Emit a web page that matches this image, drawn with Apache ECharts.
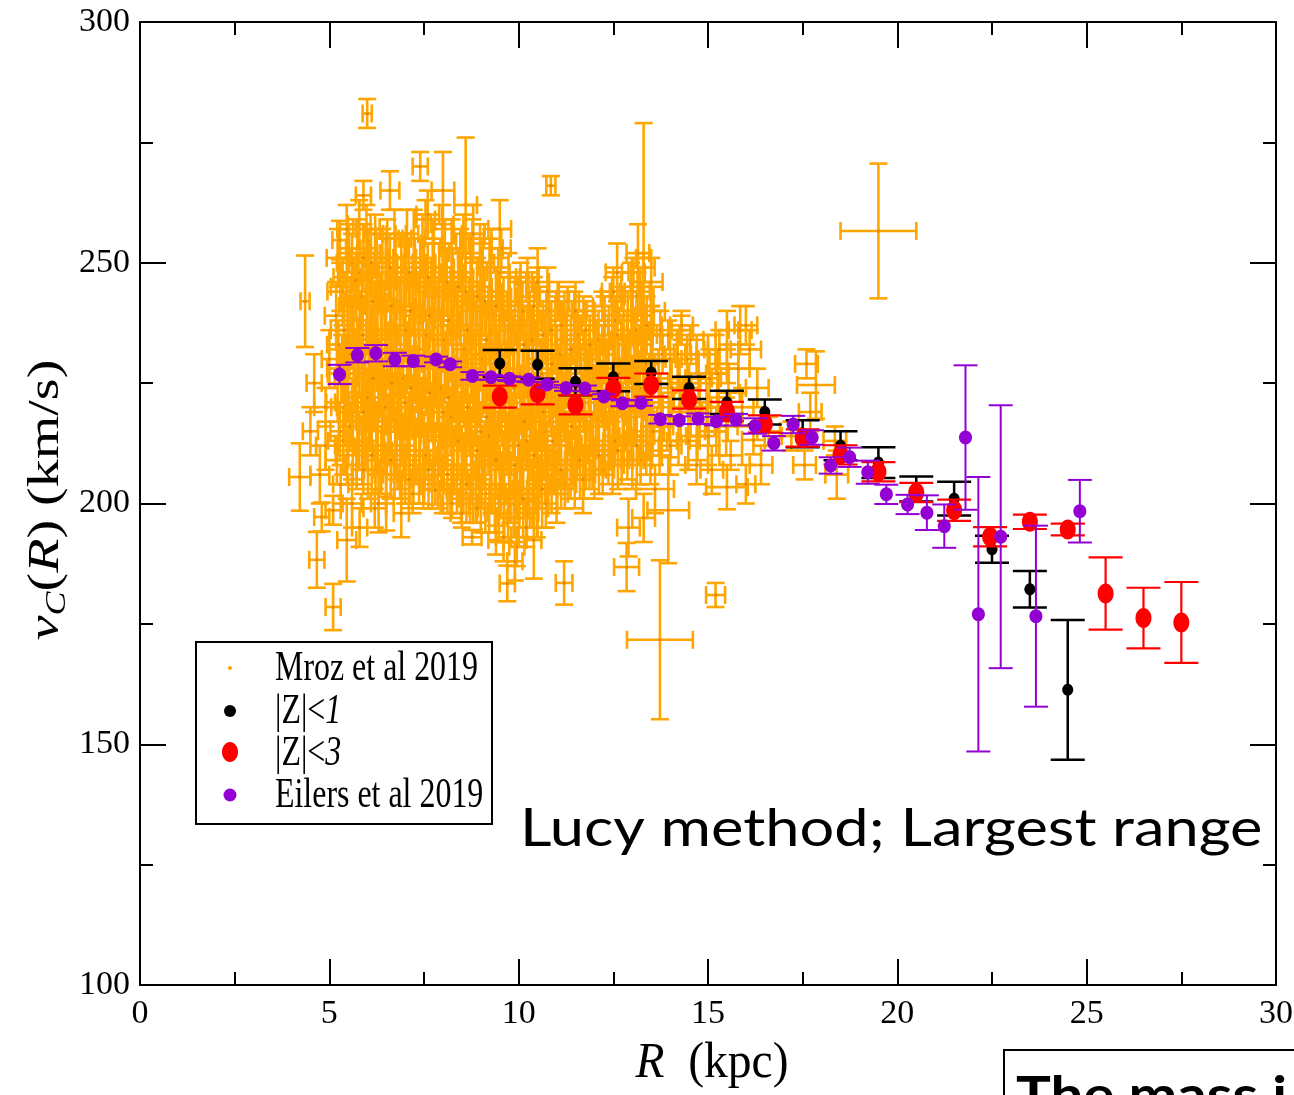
<!DOCTYPE html>
<html><head><meta charset="utf-8">
<script src="https://cdn.jsdelivr.net/npm/echarts@6/dist/echarts.min.js"></script>
<style>html,body{margin:0;padding:0;background:#fff}#c{width:1294px;height:1095px}</style>
</head><body><div id="c"></div>
<script>
// ---- axis ranges / ticks ----
const xRange = [0, 30], xStep = 5;
const yRange = [100, 300], yStep = 50;

// ---- Mroz et al 2019: [R, v, dR, dV] ----
const mroz = [
[5.2,209,.3,5],[5.28,215,.25,6],[5.22,221,.3,4],[5.31,227,.35,6],[5.24,233,.3,5],[5.18,239,.3,7],[5.29,245,.25,5],[5.23,251,.3,6],
[5.47,210,.3,6],[5.55,216,.3,5],[5.5,221,.35,4],[5.44,226,.3,6],[5.53,231,.25,5],[5.49,236,.3,6],[5.56,241,.3,5],[5.46,247,.35,6],[5.52,253,.3,5],
[5.72,208,.3,5],[5.79,213,.25,6],[5.74,218,.3,5],[5.7,223,.35,4],[5.78,228,.3,6],[5.73,233,.3,5],[5.8,238,.3,6],[5.71,243,.25,5],[5.77,248,.3,4],[5.74,253,.3,6],[5.79,258,.3,5],
[6.02,207,.3,6],[5.96,212,.3,5],[6.05,217,.35,5],[6,222,.3,4],[5.95,227,.3,6],[6.04,232,.3,5],[5.99,237,.25,6],[6.06,242,.3,5],[5.97,247,.3,6],[6.03,252,.3,5],[5.98,257,.35,5],
[6.22,207,.3,5],[6.28,212,.3,6],[6.24,216,.3,5],[6.19,221,.35,6],[6.3,226,.3,4],[6.23,231,.3,5],[6.27,236,.3,6],[6.2,241,.25,5],[6.31,246,.3,4],[6.25,251,.3,5],[6.21,256,.3,4],
[6.5,206,.3,6],[6.45,211,.3,5],[6.55,215,.3,6],[6.48,220,.3,5],[6.44,225,.35,4],[6.53,230,.3,6],[6.5,235,.3,5],[6.46,240,.3,6],[6.56,245,.3,5],[6.49,250,.3,5],[6.53,255,.3,4],
[6.72,206,.3,5],[6.78,211,.3,6],[6.74,216,.3,4],[6.7,221,.3,6],[6.8,226,.3,5],[6.73,231,.35,6],[6.77,236,.3,5],[6.71,241,.3,6],[6.79,246,.3,5],[6.75,251,.25,4],[6.72,256,.3,5],
[7,206,.3,6],[6.96,211,.3,5],[7.04,216,.3,6],[7,221,.3,5],[6.95,226,.3,4],[7.05,231,.3,6],[7.01,236,.35,5],[6.97,241,.3,6],[7.03,246,.3,5],[6.99,251,.3,5],[7.05,256,.3,5],
[7.22,205,.3,5],[7.28,210,.3,6],[7.25,215,.3,5],[7.2,220,.35,6],[7.3,225,.3,4],[7.24,230,.3,5],[7.27,235,.3,6],[7.21,240,.25,5],[7.29,245,.3,4],[7.26,250,.3,5],[7.23,255,.3,6],
[7.48,205,.3,6],[7.54,210,.3,5],[7.5,215,.3,4],[7.45,220,.3,6],[7.53,225,.35,5],[7.49,230,.3,6],[7.56,235,.3,5],[7.47,240,.3,4],[7.52,245,.3,6],[7.5,250,.3,5],[7.46,255,.3,5],[7.54,259,.25,4],
[7.72,204,.3,5],[7.78,209,.3,6],[7.75,214,.35,5],[7.7,219,.3,6],[7.8,224,.3,4],[7.74,229,.3,5],[7.77,234,.3,6],[7.71,239,.3,5],[7.79,244,.3,4],[7.76,249,.3,6],[7.73,254,.3,5],
[8,204,.3,6],[7.96,209,.3,5],[8.04,214,.3,6],[8,219,.3,5],[7.95,224,.3,4],[8.05,229,.3,6],[8.01,234,.35,5],[7.97,239,.3,6],[8.03,244,.3,5],[7.99,249,.3,5],[8.05,254,.3,5],[7.98,258,.3,4],
[8.22,203,.3,5],[8.28,208,.3,6],[8.25,213,.3,5],[8.2,218,.35,6],[8.3,223,.3,4],[8.24,228,.3,5],[8.27,233,.3,6],[8.21,238,.25,5],[8.29,243,.3,4],[8.26,248,.3,5],[8.23,253,.3,6],
[8.48,202,.3,6],[8.54,207,.3,5],[8.5,212,.3,4],[8.45,217,.3,6],[8.53,222,.35,5],[8.49,227,.3,6],[8.56,232,.3,5],[8.47,237,.3,4],[8.52,242,.3,6],[8.5,247,.3,5],[8.46,252,.3,5],[8.54,256,.25,4],
[8.72,201,.3,5],[8.78,206,.3,6],[8.75,211,.35,5],[8.7,216,.3,6],[8.8,221,.3,4],[8.74,226,.3,5],[8.77,231,.3,6],[8.71,236,.3,5],[8.79,241,.3,4],[8.76,246,.3,6],[8.73,251,.3,5],[8.78,255,.3,4],
[9,200,.3,6],[8.96,205,.3,5],[9.04,210,.3,6],[9,215,.3,5],[8.95,220,.3,4],[9.05,225,.3,6],[9.01,230,.35,5],[8.97,235,.3,6],[9.03,240,.3,5],[8.99,245,.3,5],[9.05,250,.3,5],[8.98,254,.3,4],
[9.22,199,.3,5],[9.28,204,.3,6],[9.25,209,.3,5],[9.2,214,.35,6],[9.3,219,.3,4],[9.24,224,.3,5],[9.27,229,.3,6],[9.21,234,.25,5],[9.29,239,.3,4],[9.26,244,.3,5],[9.23,249,.3,6],[9.28,253,.3,4],
[9.48,198,.3,6],[9.54,203,.3,5],[9.5,208,.3,4],[9.45,213,.3,6],[9.53,218,.35,5],[9.49,223,.3,6],[9.56,228,.3,5],[9.47,233,.3,4],[9.52,238,.3,6],[9.5,243,.3,5],[9.46,248,.3,5],[9.54,253,.25,4],
[9.72,197,.3,5],[9.78,202,.3,6],[9.75,207,.35,5],[9.7,212,.3,6],[9.8,217,.3,4],[9.74,222,.3,5],[9.77,227,.3,6],[9.71,232,.3,5],[9.79,237,.3,4],[9.76,242,.3,6],[9.73,247,.3,5],
[10,197,.3,6],[9.96,202,.3,5],[10.04,207,.3,6],[10,212,.3,5],[9.95,217,.3,4],[10.05,222,.3,6],[10.01,227,.35,5],[9.97,232,.3,6],[10.03,237,.3,5],[9.99,242,.3,5],[10.05,246,.3,4],
[10.22,198,.3,5],[10.28,203,.3,6],[10.25,208,.3,5],[10.2,213,.35,6],[10.3,218,.3,4],[10.24,223,.3,5],[10.27,228,.3,6],[10.21,233,.25,5],[10.29,238,.3,4],[10.26,243,.3,5],[10.23,247,.3,4],
[10.48,199,.3,6],[10.54,204,.3,5],[10.5,209,.3,4],[10.45,214,.3,6],[10.53,219,.35,5],[10.49,224,.3,6],[10.56,229,.3,5],[10.47,234,.3,4],[10.52,239,.3,6],[10.5,244,.3,5],
[10.72,200,.3,5],[10.78,205,.3,6],[10.75,210,.35,5],[10.7,215,.3,6],[10.8,220,.3,4],[10.74,225,.3,5],[10.77,230,.3,6],[10.71,235,.3,5],[10.79,240,.3,4],[10.76,244,.3,5],
[11,202,.3,6],[10.96,207,.3,5],[11.04,212,.3,6],[11,217,.3,5],[10.95,222,.3,4],[11.05,227,.3,6],[11.01,232,.35,5],[10.97,237,.3,6],[11.03,242,.3,4],
[11.22,204,.3,5],[11.28,209,.3,6],[11.25,214,.3,5],[11.2,219,.35,6],[11.3,224,.3,4],[11.24,229,.3,5],[11.27,234,.3,6],[11.21,239,.25,5],[11.29,242,.3,3],
[11.48,205,.3,6],[11.54,210,.3,5],[11.5,215,.3,4],[11.45,220,.3,6],[11.53,225,.35,5],[11.49,230,.3,6],[11.56,235,.3,5],[11.47,240,.3,4],
[11.72,206,.3,5],[11.78,211,.3,6],[11.75,216,.35,5],[11.7,221,.3,6],[11.8,226,.3,4],[11.74,231,.3,5],[11.77,236,.3,6],[11.71,240,.3,3],
[12,207,.3,6],[11.96,212,.3,5],[12.04,217,.3,6],[12,222,.3,5],[11.95,227,.3,4],[12.05,232,.3,6],[12.01,237,.35,4],
[12.22,207,.3,5],[12.28,212,.3,6],[12.25,217,.3,5],[12.2,222,.35,6],[12.3,227,.3,4],[12.24,232,.3,5],[12.27,237,.3,6],[12.21,241,.25,3],
[12.48,208,.3,6],[12.54,213,.3,5],[12.5,218,.3,4],[12.45,223,.3,6],[12.53,228,.35,5],[12.49,233,.3,6],[12.56,238,.3,5],[12.47,243,.3,4],
[12.72,209,.3,5],[12.78,214,.3,6],[12.75,219,.35,5],[12.7,224,.3,6],[12.8,229,.3,4],[12.74,234,.3,5],[12.77,239,.3,6],[12.71,244,.3,4],
[13,209,.3,6],[12.96,214,.3,5],[13.04,219,.3,6],[13,224,.3,5],[12.95,229,.3,4],[13.05,234,.3,6],[13.01,239,.35,5],[12.97,244,.3,6],[13.03,248,.3,3],
[13.22,209,.3,5],[13.28,214,.3,6],[13.25,219,.3,5],[13.2,224,.35,6],[13.3,229,.3,4],[13.24,234,.3,5],[13.27,239,.3,6],[13.21,244,.25,5],[13.29,249,.3,3],
[13.48,210,.3,6],[13.54,215,.3,5],[13.5,220,.3,4],[13.45,225,.3,6],[13.53,230,.35,5],[13.49,235,.3,6],[13.56,240,.3,5],
[13.72,211,.3,5],[13.78,216,.3,6],[13.75,221,.35,5],[13.7,226,.3,6],[13.8,231,.3,4],[13.74,236,.3,4],
[14,212,.3,6],[13.96,218,.3,5],[14.04,224,.3,6],[14,230,.3,5],[13.95,235,.3,3],
[14.22,213,.3,5],[14.28,219,.3,6],[14.25,225,.3,5],[14.2,231,.35,5],[14.3,236,.3,3],
[14.48,213,.3,6],[14.54,219,.3,5],[14.5,225,.3,4],[14.45,230,.3,5],[14.53,234,.35,3],
[14.72,214,.3,5],[14.78,220,.3,6],[14.75,226,.35,5],[14.7,231,.3,4],
[15,214,.3,6],[14.96,220,.3,5],[15.04,226,.3,6],[15,231,.3,4],
[15.22,215,.3,5],[15.28,221,.3,6],[15.25,227,.3,5],[15.2,232,.3,3],
[15.48,216,.3,6],[15.54,223,.3,5],[15.5,229,.3,4],
// interleaved core points
[5.37,213,.4,7],[5.4,220,.35,8],[5.34,228,.4,7],[5.39,236,.35,8],[5.35,244,.4,7],
[5.62,212,.4,8],[5.6,219,.35,7],[5.65,227,.4,8],[5.61,235,.4,7],[5.64,243,.35,8],[5.6,250,.4,6],
[5.87,211,.4,7],[5.9,219,.4,8],[5.85,227,.35,7],[5.88,235,.4,8],[5.86,243,.4,7],[5.9,251,.35,7],
[6.12,210,.4,8],[6.1,218,.35,7],[6.15,226,.4,8],[6.11,234,.4,7],[6.14,242,.35,8],[6.1,250,.4,7],
[6.37,209,.4,7],[6.4,217,.4,8],[6.35,225,.35,7],[6.38,233,.4,8],[6.36,241,.4,7],[6.4,249,.35,8],
[6.62,209,.4,8],[6.6,217,.35,7],[6.65,225,.4,8],[6.61,233,.4,7],[6.64,241,.35,8],[6.6,249,.4,7],
[6.87,208,.4,7],[6.9,216,.4,8],[6.85,224,.35,7],[6.88,232,.4,8],[6.86,240,.4,7],[6.9,248,.35,8],
[7.12,208,.4,8],[7.1,216,.35,7],[7.15,224,.4,8],[7.11,232,.4,7],[7.14,240,.35,8],[7.1,248,.4,7],
[7.37,207,.4,7],[7.4,215,.4,8],[7.35,223,.35,7],[7.38,231,.4,8],[7.36,239,.4,7],[7.4,247,.35,8],
[7.62,207,.4,8],[7.6,215,.35,7],[7.65,223,.4,8],[7.61,231,.4,7],[7.64,239,.35,8],[7.6,247,.4,7],
[7.87,206,.4,7],[7.9,214,.4,8],[7.85,222,.35,7],[7.88,230,.4,8],[7.86,238,.4,7],[7.9,246,.35,8],
[8.12,206,.4,8],[8.1,214,.35,7],[8.15,222,.4,8],[8.11,230,.4,7],[8.14,238,.35,8],[8.1,246,.4,7],
[8.37,205,.4,7],[8.4,213,.4,8],[8.35,221,.35,7],[8.38,229,.4,8],[8.36,237,.4,7],[8.4,245,.35,8],
[8.62,204,.4,8],[8.6,212,.35,7],[8.65,220,.4,8],[8.61,228,.4,7],[8.64,236,.35,8],[8.6,244,.4,7],
[8.87,203,.4,7],[8.9,211,.4,8],[8.85,219,.35,7],[8.88,227,.4,8],[8.86,235,.4,7],[8.9,243,.35,8],
[9.12,202,.4,8],[9.1,210,.35,7],[9.15,218,.4,8],[9.11,226,.4,7],[9.14,234,.35,8],[9.1,242,.4,7],
[9.37,201,.4,7],[9.4,209,.4,8],[9.35,217,.35,7],[9.38,225,.4,8],[9.36,233,.4,7],[9.4,241,.35,8],
[9.62,200,.4,8],[9.6,208,.35,7],[9.65,216,.4,8],[9.61,224,.4,7],[9.64,232,.35,8],[9.6,240,.4,7],
[9.87,200,.4,7],[9.9,208,.4,8],[9.85,216,.35,7],[9.88,224,.4,8],[9.86,232,.4,7],[9.9,240,.35,7],
[10.12,201,.4,8],[10.1,209,.35,7],[10.15,217,.4,8],[10.11,225,.4,7],[10.14,233,.35,8],[10.1,240,.4,6],
[10.37,202,.4,7],[10.4,210,.4,8],[10.35,218,.35,7],[10.38,226,.4,8],[10.36,234,.4,7],[10.4,241,.35,6],
[10.62,203,.4,8],[10.6,211,.35,7],[10.65,219,.4,8],[10.61,227,.4,7],[10.64,235,.35,7],
[10.87,205,.4,7],[10.9,213,.4,8],[10.85,221,.35,7],[10.88,229,.4,8],[10.86,236,.4,6],
[11.12,207,.4,8],[11.1,215,.35,7],[11.15,223,.4,8],[11.11,231,.4,7],[11.14,237,.35,5],
[11.37,208,.4,7],[11.4,216,.4,8],[11.35,224,.35,7],[11.38,232,.4,7],
[11.62,209,.4,8],[11.6,217,.35,7],[11.65,225,.4,8],[11.61,233,.4,6],
[11.87,210,.4,7],[11.9,218,.4,8],[11.85,226,.35,7],[11.88,233,.4,6],
[12.12,210,.4,8],[12.1,218,.35,7],[12.15,226,.4,8],[12.11,234,.4,6],
[12.37,211,.4,7],[12.4,219,.4,8],[12.35,227,.35,7],[12.38,235,.4,6],
[12.62,211,.4,8],[12.6,219,.35,7],[12.65,227,.4,8],[12.61,235,.4,7],
[12.87,212,.4,7],[12.9,220,.4,8],[12.85,228,.35,7],[12.88,236,.4,8],
[13.12,212,.4,8],[13.1,220,.35,7],[13.15,228,.4,8],[13.11,236,.4,8],[13.14,243,.35,5],
[13.37,213,.4,7],[13.4,221,.4,8],[13.35,229,.35,7],[13.38,237,.4,6],
// outliers / periphery
[6.0,281,.12,3],[5.9,264,.2,3],[6.6,265,.25,4],[5.46,257,.25,5],[7.4,270,.2,3],[7.6,260,.3,5],[8.0,265,.3,8],[8.6,262,.3,14],
[8.8,256,.3,6],[9.5,257,.3,6],[10.85,266,.12,2],[10.5,246,.3,7],[11.5,240,.3,6],[12.5,244,.3,5],[12.6,248,.3,6],[13.15,252,.3,6],
[13.3,251,.2,28],[13.5,246,.3,5],[15.5,236,.3,4],[15.85,236,.3,5],[16.0,237,.3,4],[15.3,232,.3,4],[14.3,237,.3,3],[16.3,224,.3,4],
[17.85,224.6,.5,7],[17.7,219,.3,4],[17.6,229,.3,3],[18.35,213,.3,3],[18.4,206,.3,5],[17.55,208,.3,3],[16.6,215,.3,3],[17.2,214,.25,3],
[19.5,256.6,1.0,14],[13.73,171.7,.87,16.5],[15.2,181,.25,2.5],[12.85,186.8,.33,5],[11.2,183.5,.22,4.5],[9.7,183.4,.2,3.7],
[9.4,192.4,.2,3],[8.77,193,.25,1.5],[9.95,191,.2,4],[10.4,192.4,.2,8],[11.7,205,.25,7],[12.9,195,.3,6],[13.3,197,.3,5],
[13.95,198.6,.55,11],[13.6,203,.5,5],[15.5,203.4,.55,4.6],[15.1,207,.3,5],[16.2,213.2,.3,3],[14.7,208,.3,4],
[15.8,228,.3,5],[16.1,232,.3,4],[15.9,220,.3,4],[16.4,208,.3,4],[16.0,204,.25,4],[15.6,210,.3,3],
[4.22,205.5,.28,7],[4.36,242,.12,9.5],[4.75,206,.25,6],[4.8,197.2,.2,3],[4.67,188.3,.2,5.8],[5.1,178.5,.2,4.8],[5.46,192.4,.25,8.6],
[5.1,198.6,.2,3],[6.5,201.4,.2,7],[7.2,202,.3,4],[7.8,202.8,.3,3],[8.24,200,.3,3],[4.5,215,.2,5],[4.6,225,.2,6],[4.9,212,.25,5],
[5.0,230,.2,6],[4.9,220,.3,4],[5.3,204,.2,4],[5.6,200,.25,5],[5.8,195,.2,4],[6.2,199,.3,4],[6.3,200,.2,6],[6.9,198,.2,5],[7.1,205,.3,6],
[5.9,207,.3,5],[8.5,198,.3,3],[8.9,199,.2,3],[9.6,193,.2,5],[9.9,188,.2,4],[10.2,195,.3,4],[5.28,254.7,.2,4],[5.7,246.4,.3,4]
];

// ---- |Z|<1 : [R, v, dV] ----
const zLt1 = [
[9.5,229.1,2.8],[10.5,228.8,2.9],[11.5,225.3,2.8],[12.5,226.2,2.9],[13.5,227.2,2.4],[14.5,224.0,2.3],
[15.5,221.0,2.4],[16.5,219.0,2.6],[17.5,214.5,2.8],[18.5,212.0,3.0],[19.5,208.5,3.2],[20.5,203.0,2.6],
[21.5,201.0,3.5],[22.5,190.5,2.8],[23.5,182.2,3.8],[24.5,161.3,14.5]
];

// ---- |Z|<3 : [R, v, dV] ----
const zLt3 = [
[9.5,222.2,2.3],[10.5,222.9,2.3],[11.5,220.5,2.0],[12.5,223.9,2.2],[13.5,224.6,2.4],[14.5,221.6,1.9],
[15.5,219.1,2.0],[16.5,216.5,1.8],[17.5,213.6,1.8],[18.5,210.1,2.0],[19.5,206.6,2.0],[20.5,202.3,2.0],
[21.5,198.6,2.2],[22.45,193.1,2.0],[23.5,196.2,1.5],[24.5,194.6,1.2],[25.5,181.3,7.5],[26.5,176.2,6.3],[27.5,175.3,8.4]
];

// ---- Eilers et al 2019 : [R, v, dV] ----
const eilers = [
[5.27,226.8,2.0],[5.74,230.8,1.5],[6.23,231.2,1.7],[6.73,229.9,1.4],[7.22,229.6,1.1],[7.82,229.9,0.6],[8.19,228.9,0.6],
[8.78,226.5,0.8],[9.27,226.2,0.5],[9.76,225.9,0.5],[10.26,225.7,0.5],[10.75,224.7,0.6],[11.25,224.0,0.6],[11.75,223.9,0.6],
[12.25,222.2,0.5],[12.74,220.8,0.6],[13.23,220.9,0.6],[13.74,217.5,0.9],[14.24,217.3,0.8],[14.74,217.6,1.1],[15.22,217.1,0.9],
[15.74,217.4,1.2],[16.24,216.1,1.6],[16.74,212.5,1.5],[17.25,216.4,1.8],[17.75,213.7,1.5],[18.24,207.9,1.7],[18.74,209.6,2.0],
[19.22,206.5,2.4],[19.71,201.9,2.0],[20.27,199.8,2.0],[20.78,198.1,3.6],[21.24,195.3,4.5],[21.80,213.7,15.0],[22.14,177.0,28.5],
[22.73,193.1,27.3],[23.66,176.6,18.8],[24.82,198.4,6.5]
];

const COL = {mroz:'#ffa500', z1:'#000000', z3:'#ff0000', eil:'#9400d3'};

function seg(x1,y1,x2,y2,color,lw){return {type:'line',shape:{x1,y1,x2,y2},style:{stroke:color,lineWidth:lw}};}

function xyErr(color, cap, lw){
  return function(params, api){
    const R=api.value(0), v=api.value(1), dR=api.value(2), dV=api.value(3);
    const c=api.coord([R,v]), l=api.coord([R-dR,v]), r=api.coord([R+dR,v]);
    const t=api.coord([R,v+dV]), b=api.coord([R,v-dV]);
    return {type:'group',children:[
      seg(l[0],c[1],r[0],c[1],color,lw),
      seg(c[0],t[1],c[0],b[1],color,lw),
      seg(l[0],c[1]-cap,l[0],c[1]+cap,color,lw),
      seg(r[0],c[1]-cap,r[0],c[1]+cap,color,lw),
      seg(c[0]-cap,t[1],c[0]+cap,t[1],color,lw),
      seg(c[0]-cap,b[1],c[0]+cap,b[1],color,lw),
      {type:'circle',shape:{cx:c[0],cy:c[1],r:1.6},style:{fill:'#e08a00'}}
    ]};
  };
}
function vErr(color, cap, lw, rx, ry){
  return function(params, api){
    const R=api.value(0), v=api.value(1), dV=api.value(2);
    const c=api.coord([R,v]), t=api.coord([R,v+dV]), b=api.coord([R,v-dV]);
    return {type:'group',children:[
      seg(c[0],t[1],c[0],b[1],color,lw),
      seg(c[0]-cap,t[1],c[0]+cap,t[1],color,lw),
      seg(c[0]-cap,b[1],c[0]+cap,b[1],color,lw),
      {type:'ellipse',shape:{cx:c[0],cy:c[1],rx,ry},style:{fill:color}}
    ]};
  };
}

const serif = "'Liberation Serif','Times New Roman',serif";
const sans = 'Lato, "Open Sans", sans-serif';
const axisCommon = {
  type:'value', splitLine:{show:false},
  axisLine:{show:true,onZero:false,lineStyle:{color:'#000',width:2}},
  axisTick:{show:true,inside:true,length:26,lineStyle:{color:'#000',width:2}},
  minorTick:{show:true,splitNumber:2,length:13,lineStyle:{color:'#000',width:2}},
  axisLabel:{color:'#000',fontFamily:serif,fontSize:34}
};

const chart = echarts.init(document.getElementById('c'), null, {renderer:'canvas'});
chart.setOption({
  animation:false,
  backgroundColor:'#fff',
  grid:{left:140,right:18,top:22,bottom:110,containLabel:false,outerBoundsMode:'none'},
  xAxis:[
    Object.assign({},axisCommon,{min:xRange[0],max:xRange[1],interval:xStep,position:'bottom',
      axisLabel:Object.assign({},axisCommon.axisLabel,{margin:12})}),
    Object.assign({},axisCommon,{min:xRange[0],max:xRange[1],interval:xStep,position:'top',axisLabel:{show:false}})
  ],
  yAxis:[
    Object.assign({},axisCommon,{min:yRange[0],max:yRange[1],interval:yStep,position:'left',
      axisLabel:Object.assign({},axisCommon.axisLabel,{margin:10})}),
    Object.assign({},axisCommon,{min:yRange[0],max:yRange[1],interval:yStep,position:'right',axisLabel:{show:false}})
  ],
  series:[
    {name:'Mroz et al 2019',type:'custom',renderItem:xyErr(COL.mroz,9,2.6),data:mroz,encode:{x:0,y:1},z:2},
    {name:'|Z|<1',type:'custom',renderItem:vErr(COL.z1,17,2.5,5.5,6),data:zLt1,encode:{x:0,y:1},z:3},
    {name:'|Z|<3',type:'custom',renderItem:vErr(COL.z3,17,2.2,8,10),data:zLt3,encode:{x:0,y:1},z:4},
    {name:'Eilers et al 2019',type:'custom',renderItem:vErr(COL.eil,12,2,6.5,7),data:eilers,encode:{x:0,y:1},z:5}
  ],
  graphic:[
    // y-axis title
    {type:'text',x:46,y:500,rotation:Math.PI/2,scaleY:0.8,z:10,
      style:{text:'{i|v}{s|C}{n|(}{i|R}{n|) (km/s)}',align:'center',verticalAlign:'middle',
        rich:{i:{fontFamily:serif,fontStyle:'italic',fontSize:56,lineHeight:64,fill:'#000'},
              n:{fontFamily:serif,fontSize:56,lineHeight:64,fill:'#000'},
              s:{fontFamily:serif,fontStyle:'italic',fontSize:36,lineHeight:32,verticalAlign:'bottom',fill:'#000'}}}},
    // x-axis title
    {type:'text',x:712,y:1064,scaleX:0.95,z:10,
      style:{text:'{i|R}{n|  (kpc)}',align:'center',verticalAlign:'middle',
        rich:{i:{fontFamily:serif,fontStyle:'italic',fontSize:50,fill:'#000'},
              n:{fontFamily:serif,fontSize:50,fill:'#000'}}}},
    // legend box
    {type:'rect',shape:{x:196,y:642,width:296,height:182},style:{fill:'#fff',stroke:'#000',lineWidth:2},z:20},
    {type:'circle',shape:{cx:230,cy:668,r:2},style:{fill:COL.mroz},z:21},
    {type:'circle',shape:{cx:230,cy:711,r:6},style:{fill:COL.z1},z:21},
    {type:'ellipse',shape:{cx:230,cy:752,rx:8,ry:10},style:{fill:COL.z3},z:21},
    {type:'circle',shape:{cx:230,cy:795,r:6.5},style:{fill:COL.eil},z:21},
    {type:'text',x:275,y:669,scaleX:0.76,z:21,style:{text:'Mroz et al 2019',fontFamily:serif,fontSize:42,fill:'#000',verticalAlign:'middle'}},
    {type:'text',x:275,y:712,scaleX:0.76,z:21,style:{text:'{n|\u007CZ\u007C<}{i|1}',verticalAlign:'middle',
      rich:{n:{fontFamily:serif,fontSize:42,fill:'#000'},i:{fontFamily:serif,fontStyle:'italic',fontSize:42,fill:'#000'}}}},
    {type:'text',x:275,y:754,scaleX:0.76,z:21,style:{text:'{n|\u007CZ\u007C<}{i|3}',verticalAlign:'middle',
      rich:{n:{fontFamily:serif,fontSize:42,fill:'#000'},i:{fontFamily:serif,fontStyle:'italic',fontSize:42,fill:'#000'}}}},
    {type:'text',x:275,y:796,scaleX:0.76,z:21,style:{text:'Eilers et al 2019',fontFamily:serif,fontSize:42,fill:'#000',verticalAlign:'middle'}},
    // overlay annotation
    {type:'text',x:520,y:829,scaleX:1.18,z:30,style:{text:'Lucy method; Largest range',fontFamily:sans,fontSize:52,fill:'#000',verticalAlign:'middle'}},
    // bottom-right cut box
    {type:'rect',shape:{x:1004,y:1050,width:320,height:90},style:{fill:'#fff',stroke:'#000',lineWidth:2},z:30},
    {type:'text',x:1016,y:1070,scaleX:1.12,z:31,style:{text:'The mass i',fontFamily:sans,fontWeight:'bold',fontSize:52,fill:'#000',verticalAlign:'top'}}
  ]
});
</script></body></html>
